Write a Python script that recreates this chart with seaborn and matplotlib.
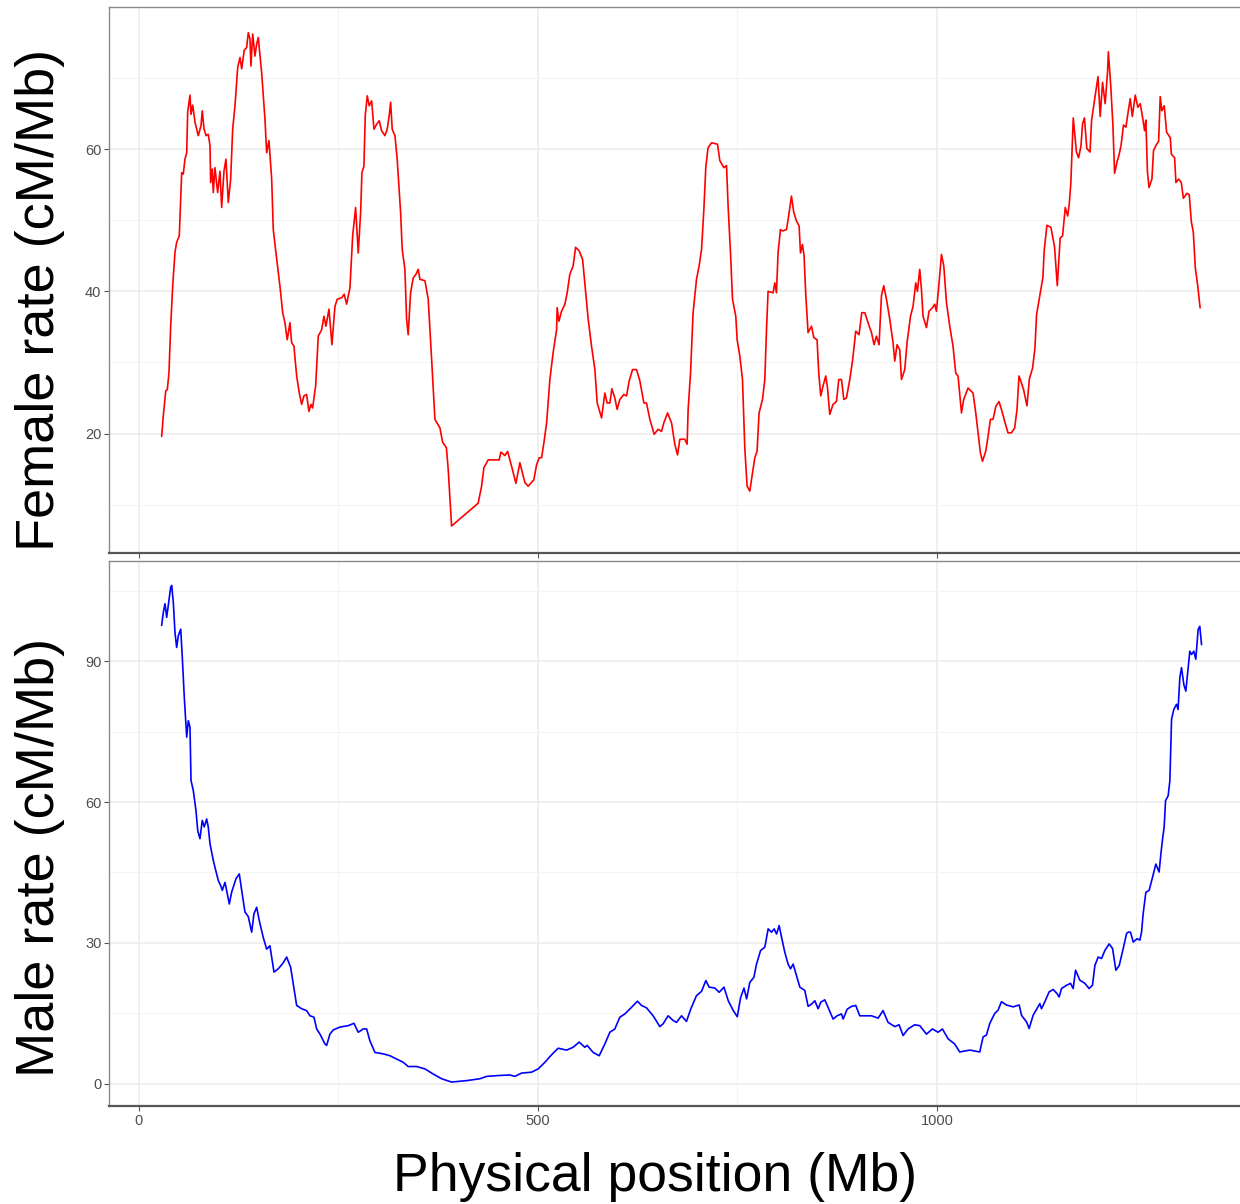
import matplotlib
matplotlib.use("Agg")
import matplotlib.pyplot as plt
import seaborn as sns
import pandas as pd

# ---------------- data (Mb, cM/Mb) ----------------
female_pos = [28.4, 30.4, 33.5, 35.5, 37.6, 39.7, 42.2, 45.1, 47.2, 50.5, 53.5, 55.5, 57.6, 59.8, 61.0, 63.9, 65.2, 67.3, 70.2, 74.3,
              77.7, 79.3, 81.4, 84.0, 86.8, 89.0, 89.8, 91.8, 93.1, 95.2, 98.6, 101.5, 103.6, 106.5, 109.0, 111.9, 114.9, 117.4, 120.3, 123.7,
              126.6, 128.7, 131.9, 134.9, 137.0, 139.1, 140.3, 142.5, 145.3, 147.5, 149.5, 153.7, 157.9, 160.0, 162.9, 166.3, 168.3, 171.7, 176.7, 180.1,
              182.9, 185.8, 189.2, 191.3, 194.2, 197.6, 200.9, 203.9, 206.7, 210.1, 213.0, 215.5, 217.6, 221.4, 224.7, 228.9, 231.8, 234.3, 238.1, 241.8,
              245.6, 248.5, 254.0, 257.2, 260.2, 264.4, 267.8, 271.5, 274.8, 277.8, 279.4, 281.9, 283.6, 286.1, 288.6, 291.6, 294.5, 297.8, 301.1, 304.1,
              308.2, 311.1, 313.6, 315.4, 317.4, 320.8, 323.6, 327.9, 329.9, 333.3, 335.4, 337.4, 340.4, 343.7, 347.1, 350.0, 352.1, 358.4, 362.5, 366.8,
              370.9, 377.2, 380.5, 385.3, 387.6, 391.8, 425.1, 429.4, 432.3, 437.7, 451.5, 453.6, 458.6, 462.0, 467.0, 472.4, 477.4, 483.7, 487.8, 494.9,
              498.3, 501.6, 504.6, 507.5, 510.9, 515.0, 519.1, 523.4, 524.1, 526.3, 529.6, 533.8, 536.7, 540.0, 544.2, 547.2, 551.7, 556.0, 558.8, 563.0,
              567.2, 571.4, 574.3, 579.8, 583.9, 586.8, 590.2, 592.7, 596.4, 599.3, 602.7, 607.7, 611.1, 614.4, 618.6, 623.6, 627.8, 632.8, 636.1, 640.3,
              645.7, 650.7, 654.9, 657.8, 662.5, 667.5, 671.6, 675.0, 677.9, 684.1, 687.0, 688.3, 691.3, 694.5, 698.8, 702.1, 705.1, 708.0, 710.5, 713.3,
              717.6, 725.1, 728.0, 733.0, 736.4, 738.4, 741.4, 743.9, 748.0, 749.7, 753.1, 756.4, 759.3, 762.2, 765.6, 769.0, 771.9, 774.7, 777.2, 781.5,
              784.4, 786.5, 788.5, 794.8, 796.9, 799.0, 801.0, 804.0, 806.6, 811.6, 813.6, 817.8, 820.7, 824.1, 827.4, 829.1, 831.6, 833.6, 835.8, 838.6,
              842.9, 845.8, 849.9, 852.0, 854.5, 857.4, 860.8, 863.0, 865.8, 869.9, 874.2, 877.1, 880.5, 883.4, 886.7, 890.9, 894.3, 898.4, 902.5, 905.9,
              909.7, 913.8, 918.1, 921.3, 924.3, 927.6, 930.6, 933.5, 936.9, 941.0, 945.1, 947.3, 950.2, 953.5, 955.7, 959.8, 962.7, 967.0, 970.2, 973.6,
              975.7, 978.6, 980.7, 982.7, 987.0, 990.2, 994.5, 997.4, 999.5, 1002.8, 1005.8, 1008.7, 1012.1, 1016.2, 1020.3, 1023.7, 1026.6, 1030.9, 1033.7, 1039.1,
              1045.4, 1048.8, 1051.7, 1054.6, 1057.2, 1061.3, 1064.2, 1067.2, 1070.5, 1073.9, 1077.9, 1081.0, 1085.1, 1089.2, 1093.5, 1097.6, 1100.5, 1103.0, 1105.8, 1108.7,
              1113.0, 1116.0, 1120.0, 1123.0, 1125.0, 1128.0, 1133.0, 1134.6, 1138.0, 1143.0, 1147.5, 1151.0, 1154.6, 1157.6, 1161.0, 1164.0, 1166.0, 1168.0, 1171.0, 1175.0,
              1177.7, 1180.6, 1182.7, 1185.0, 1188.0, 1192.0, 1194.0, 1198.6, 1202.0, 1204.8, 1207.7, 1211.0, 1214.0, 1215.0, 1218.0, 1220.7, 1222.8, 1225.7, 1228.6, 1231.0,
              1234.0, 1237.0, 1240.0, 1242.4, 1245.0, 1248.7, 1252.0, 1255.0, 1258.0, 1260.4, 1262.0, 1264.0, 1266.0, 1269.6, 1271.6, 1275.0, 1278.0, 1280.0, 1282.0, 1285.0,
              1288.0, 1292.6, 1294.0, 1298.0, 1299.7, 1303.0, 1306.4, 1309.0, 1313.5, 1316.4, 1319.0, 1321.5, 1324.0, 1327.0, 1330.0]
female_rate = [19.6, 22.4, 26.0, 26.2, 28.6, 35.1, 40.7, 45.5, 46.9, 47.8, 56.7, 56.5, 58.6, 59.5, 65.2, 67.6, 64.9, 66.2, 63.8, 61.9,
               63.3, 65.4, 62.9, 61.9, 62.1, 60.5, 55.3, 57.2, 53.9, 57.4, 53.9, 56.9, 51.8, 56.9, 58.6, 52.5, 55.8, 62.8, 66.1, 71.5,
               72.9, 71.3, 73.9, 74.3, 76.4, 75.5, 71.7, 76.2, 73.1, 74.8, 75.7, 70.8, 64.2, 59.5, 61.2, 55.8, 48.7, 45.4, 40.7, 37.0,
               35.6, 33.2, 35.6, 32.8, 32.3, 28.1, 25.7, 24.1, 25.3, 25.5, 23.1, 24.1, 23.6, 26.7, 33.7, 34.6, 36.5, 35.1, 37.5, 32.5,
               37.9, 38.9, 39.1, 39.6, 38.2, 40.5, 47.8, 51.8, 45.4, 51.1, 56.7, 57.6, 64.7, 67.5, 66.1, 66.8, 62.8, 63.5, 64.0, 62.6,
               61.9, 62.8, 64.7, 66.6, 62.8, 61.9, 58.6, 51.1, 45.9, 43.1, 36.1, 33.9, 39.8, 41.9, 42.4, 43.1, 41.7, 41.5, 38.9, 30.4,
               22.0, 20.8, 18.8, 18.0, 14.9, 7.0, 10.2, 12.6, 15.2, 16.3, 16.3, 17.4, 16.9, 17.5, 15.4, 13.0, 15.9, 13.1, 12.6, 13.5,
               15.6, 16.6, 16.6, 18.7, 21.5, 27.6, 31.4, 34.6, 37.7, 35.8, 37.2, 38.2, 39.8, 42.4, 43.6, 46.2, 45.7, 44.5, 41.2, 36.1,
               32.3, 29.0, 24.3, 22.2, 25.7, 24.3, 24.3, 26.3, 25.0, 23.4, 24.8, 25.5, 25.3, 27.4, 29.0, 29.0, 27.4, 24.3, 24.3, 22.0,
               19.9, 20.6, 20.3, 21.5, 22.9, 21.5, 18.5, 17.0, 19.2, 19.2, 18.5, 23.4, 28.5, 37.0, 41.7, 43.6, 45.9, 51.5, 57.6, 60.2,
               60.9, 60.7, 58.4, 57.4, 57.7, 52.0, 45.4, 38.9, 36.5, 33.2, 30.9, 27.6, 18.0, 12.6, 11.9, 14.5, 16.6, 17.5, 22.9, 24.8,
               27.6, 34.6, 40.0, 39.8, 41.2, 39.8, 45.4, 48.7, 48.5, 48.7, 50.1, 53.4, 51.1, 49.9, 49.2, 45.4, 46.6, 45.0, 39.4, 34.2,
               35.1, 33.5, 33.2, 28.5, 25.3, 26.7, 28.1, 26.4, 22.7, 24.1, 24.5, 27.6, 27.6, 24.8, 25.0, 27.6, 30.2, 34.4, 33.9, 37.0,
               37.0, 35.6, 34.2, 32.5, 33.7, 32.5, 39.4, 40.8, 38.9, 36.1, 32.8, 30.2, 32.5, 31.8, 27.6, 29.0, 32.8, 36.5, 37.9, 41.2,
               40.0, 43.1, 40.3, 36.5, 34.9, 37.2, 37.7, 38.2, 37.2, 41.2, 45.2, 43.6, 38.4, 35.1, 32.3, 28.5, 28.1, 22.9, 24.8, 26.4,
               25.7, 22.9, 20.1, 17.3, 16.1, 17.5, 19.6, 22.0, 22.0, 23.8, 24.5, 23.4, 21.7, 20.1, 20.1, 20.8, 23.4, 28.1, 27.2, 26.2,
               23.9, 27.7, 29.2, 32.0, 36.7, 38.7, 42.0, 45.8, 49.3, 49.0, 46.3, 40.8, 47.5, 47.8, 51.8, 50.6, 52.3, 55.3, 64.4, 59.6,
               58.8, 60.4, 63.6, 64.4, 60.1, 59.6, 64.1, 67.6, 70.2, 64.6, 69.4, 66.4, 70.9, 73.7, 68.9, 63.4, 56.6, 58.1, 59.3, 60.6,
               63.4, 63.1, 65.4, 67.1, 64.6, 67.6, 65.9, 66.4, 64.4, 62.6, 64.1, 56.8, 54.6, 55.8, 59.8, 60.6, 61.1, 67.4, 65.4, 66.1,
               62.4, 61.6, 59.3, 58.8, 55.3, 55.8, 55.3, 53.1, 53.8, 53.6, 49.8, 48.3, 43.3, 40.8, 37.7]

male_pos = [28.4, 30.5, 32.6, 34.7, 36.7, 39.7, 41.0, 43.0, 45.1, 47.2, 49.3, 52.3, 54.3, 56.8, 59.8, 61.8, 63.9, 65.2, 68.1, 71.4,
            73.6, 76.4, 79.3, 81.8, 84.8, 86.8, 89.0, 93.1, 95.2, 99.4, 102.4, 104.4, 107.8, 110.6, 113.2, 116.1, 121.6, 125.7, 128.7, 132.8,
            137.0, 141.2, 144.1, 147.5, 150.7, 155.7, 160.0, 164.1, 169.2, 174.5, 180.0, 185.1, 190.1, 193.4, 197.6, 203.9, 210.1, 214.3, 219.3, 222.7,
            226.8, 233.1, 235.2, 239.3, 243.5, 251.9, 262.3, 269.4, 274.8, 281.1, 285.3, 289.4, 295.7, 306.1, 314.5, 322.9, 331.2, 337.4, 347.9, 358.4,
            368.8, 379.3, 391.8, 410.6, 427.3, 435.7, 452.3, 464.9, 471.1, 479.5, 492.0, 500.4, 508.7, 517.1, 525.4, 535.9, 544.2, 551.7, 558.8, 561.7,
            569.3, 576.8, 583.9, 590.2, 596.4, 602.7, 609.0, 617.3, 624.8, 629.8, 636.1, 644.4, 652.8, 657.0, 663.2, 669.5, 673.7, 680.0, 686.2, 691.7,
            698.8, 705.1, 710.5, 714.6, 721.8, 727.2, 733.2, 738.6, 744.9, 749.9, 754.1, 758.3, 761.6, 765.6, 770.7, 774.0, 779.1, 784.4, 788.6, 792.8,
            796.1, 799.1, 802.4, 805.4, 809.5, 813.6, 816.6, 819.9, 824.2, 828.3, 834.5, 838.7, 843.0, 847.1, 851.2, 854.6, 859.6, 863.7, 870.0, 875.0,
            880.5, 882.6, 887.6, 893.0, 898.4, 903.4, 909.7, 918.1, 926.4, 932.6, 938.9, 947.3, 952.7, 957.7, 964.0, 972.3, 978.6, 987.0, 994.5, 1001.5,
            1007.0, 1014.1, 1022.4, 1028.7, 1041.3, 1053.8, 1058.0, 1062.2, 1066.4, 1072.6, 1076.8, 1081.0, 1087.3, 1095.6, 1103.2, 1106.2, 1112.4, 1115.7, 1120.7, 1129.1,
            1131.2, 1135.4, 1140.8, 1145.8, 1150.8, 1153.3, 1156.3, 1162.6, 1167.6, 1170.9, 1173.9, 1179.2, 1185.5, 1190.9, 1195.1, 1198.1, 1202.2, 1206.5, 1210.6, 1216.0,
            1220.3, 1224.4, 1228.6, 1233.6, 1237.8, 1239.8, 1242.8, 1246.1, 1251.1, 1254.5, 1256.6, 1258.6, 1262.0, 1266.1, 1270.4, 1274.5, 1278.6, 1280.8, 1282.9, 1284.9,
            1286.7, 1289.9, 1292.1, 1294.2, 1297.0, 1300.4, 1302.4, 1304.6, 1306.7, 1309.6, 1312.1, 1314.2, 1317.1, 1319.2, 1322.1, 1324.6, 1327.5, 1329.6, 1331.8]
male_rate = [97.6, 100.4, 102.2, 99.3, 101.8, 105.7, 106.1, 102.5, 96.1, 92.9, 95.4, 96.8, 90.7, 82.2, 73.8, 77.3, 75.9, 64.6, 62.4, 58.2,
             53.9, 52.2, 56.1, 54.7, 56.4, 54.7, 51.1, 47.6, 46.1, 43.3, 42.2, 41.2, 42.9, 40.5, 38.3, 40.8, 43.7, 44.7, 41.2, 36.6,
             35.6, 32.3, 36.2, 37.6, 34.8, 31.2, 28.7, 29.4, 23.8, 24.5, 25.6, 27.0, 24.8, 21.3, 16.7, 16.0, 15.6, 14.5, 14.2, 11.7,
             10.6, 8.5, 8.2, 10.6, 11.5, 12.1, 12.4, 12.9, 11.0, 11.7, 11.7, 9.2, 6.7, 6.4, 6.0, 5.3, 4.6, 3.7, 3.7, 3.2,
             2.1, 1.1, 0.4, 0.7, 1.1, 1.6, 1.8, 1.9, 1.6, 2.3, 2.5, 3.2, 4.6, 6.2, 7.6, 7.2, 7.8, 8.9, 7.8, 8.2,
             6.7, 6.0, 8.5, 11.0, 11.7, 14.2, 14.9, 16.3, 17.6, 16.7, 16.2, 14.5, 12.2, 12.8, 14.5, 13.5, 13.1, 14.5, 13.3, 16.0,
             18.8, 19.7, 22.0, 20.6, 20.4, 19.5, 20.6, 17.7, 15.6, 14.3, 18.4, 20.4, 18.1, 21.6, 22.7, 25.5, 28.4, 29.1, 33.0, 32.3,
             33.0, 31.9, 33.7, 31.2, 28.0, 25.5, 24.5, 25.5, 23.0, 20.6, 19.9, 16.5, 17.0, 17.7, 16.0, 17.4, 17.9, 16.3, 13.8, 14.5,
             14.9, 13.8, 15.9, 16.5, 16.7, 14.5, 14.5, 14.5, 14.0, 15.6, 13.1, 12.2, 12.6, 10.3, 11.7, 12.6, 12.4, 10.6, 11.7, 11.0,
             11.7, 9.6, 8.5, 6.8, 7.2, 6.8, 10.0, 10.4, 12.9, 15.0, 15.7, 17.5, 16.8, 16.4, 16.8, 14.6, 13.2, 11.8, 14.6, 17.1,
             16.0, 17.5, 19.6, 20.1, 19.2, 18.5, 20.3, 21.0, 21.4, 20.3, 24.2, 22.1, 21.4, 20.3, 21.0, 25.2, 27.0, 26.7, 28.4, 29.8,
             28.8, 24.2, 25.2, 28.8, 32.0, 32.3, 32.3, 30.2, 30.9, 30.6, 32.3, 36.2, 40.8, 41.2, 44.0, 46.8, 45.1, 48.9, 52.1, 54.6,
             60.3, 61.3, 64.5, 77.6, 79.7, 80.8, 79.7, 86.5, 88.6, 85.0, 83.6, 87.2, 92.1, 91.4, 92.1, 90.4, 96.7, 97.4, 93.5]

x_ticks = [0, 500, 1000]
female_ticks = [20, 40, 60]
male_ticks = [0, 30, 60, 90]

female_df = pd.DataFrame({"pos": female_pos, "rate": female_rate})
male_df = pd.DataFrame({"pos": male_pos, "rate": male_rate})

# ---------------- style ----------------
sns.set_theme(style="white")
plt.rcParams["font.family"] = ["Liberation Sans", "DejaVu Sans"]

W, H = 1240, 1204
fig = plt.figure(figsize=(W / 100, H / 100), dpi=100)

def fx(px):
    return px / W

def fy(py):
    return 1 - py / H

ax_top = fig.add_axes([fx(109), fy(553), fx(1240) - fx(109), fy(7) - fy(553)])
ax_bot = fig.add_axes([fx(109), fy(1106), fx(1240) - fx(109), fy(561) - fy(1106)])

xlim = (-37.6, 1380)

def style(ax, yticks, yminor, ylim, show_xlabels):
    ax.set_xlim(*xlim)
    ax.set_ylim(*ylim)
    ax.set_xticks(x_ticks)
    ax.set_xticks([250, 750, 1250], minor=True)
    ax.set_yticks(yticks)
    ax.set_yticks(yminor, minor=True)
    ax.grid(True, which="major", color="#ebebeb", linewidth=1.1, zorder=0)
    ax.grid(True, which="minor", color="#f3f3f3", linewidth=0.8, zorder=0)
    ax.set_axisbelow(True)
    ax.tick_params(axis="both", which="major", length=3.5, width=0.8, color="#555555",
                   labelsize=10.5, labelcolor="#4d4d4d", pad=2, left=True, bottom=True)
    ax.tick_params(axis="both", which="minor", length=0)
    if not show_xlabels:
        ax.set_xticklabels([])
    ax.spines["right"].set_visible(False)
    ax.spines["top"].set_color("#8a8a8a")
    ax.spines["top"].set_linewidth(1.0)
    ax.spines["left"].set_color("#8a8a8a")
    ax.spines["left"].set_linewidth(1.0)
    ax.spines["bottom"].set_color("#555555")
    ax.spines["bottom"].set_linewidth(1.6)
    ax.set_xlabel("")
    ax.set_ylabel("")

sns.lineplot(data=female_df, x="pos", y="rate", ax=ax_top, color="#ff0000",
             linewidth=1.2, estimator=None, sort=False)
sns.lineplot(data=male_df, x="pos", y="rate", ax=ax_bot, color="#0000ff",
             linewidth=1.2, estimator=None, sort=False)

style(ax_top, female_ticks, [10, 30, 50, 70], (3.2, 80.0), False)
style(ax_bot, male_ticks, [15, 45, 75, 105], (-4.7, 111.3), True)

fig.text(fx(40), fy(300), "Female rate (cM/Mb)", rotation=90, ha="center", va="center",
         fontsize=39, color="black")
fig.text(fx(40), fy(857), "Male rate (cM/Mb)", rotation=90, ha="center", va="center",
         fontsize=39, color="black")
fig.text(fx(655), fy(1177), "Physical position (Mb)", ha="center", va="center",
         fontsize=38.5, color="black")

fig.savefig("out.png", dpi=100, facecolor="white")
